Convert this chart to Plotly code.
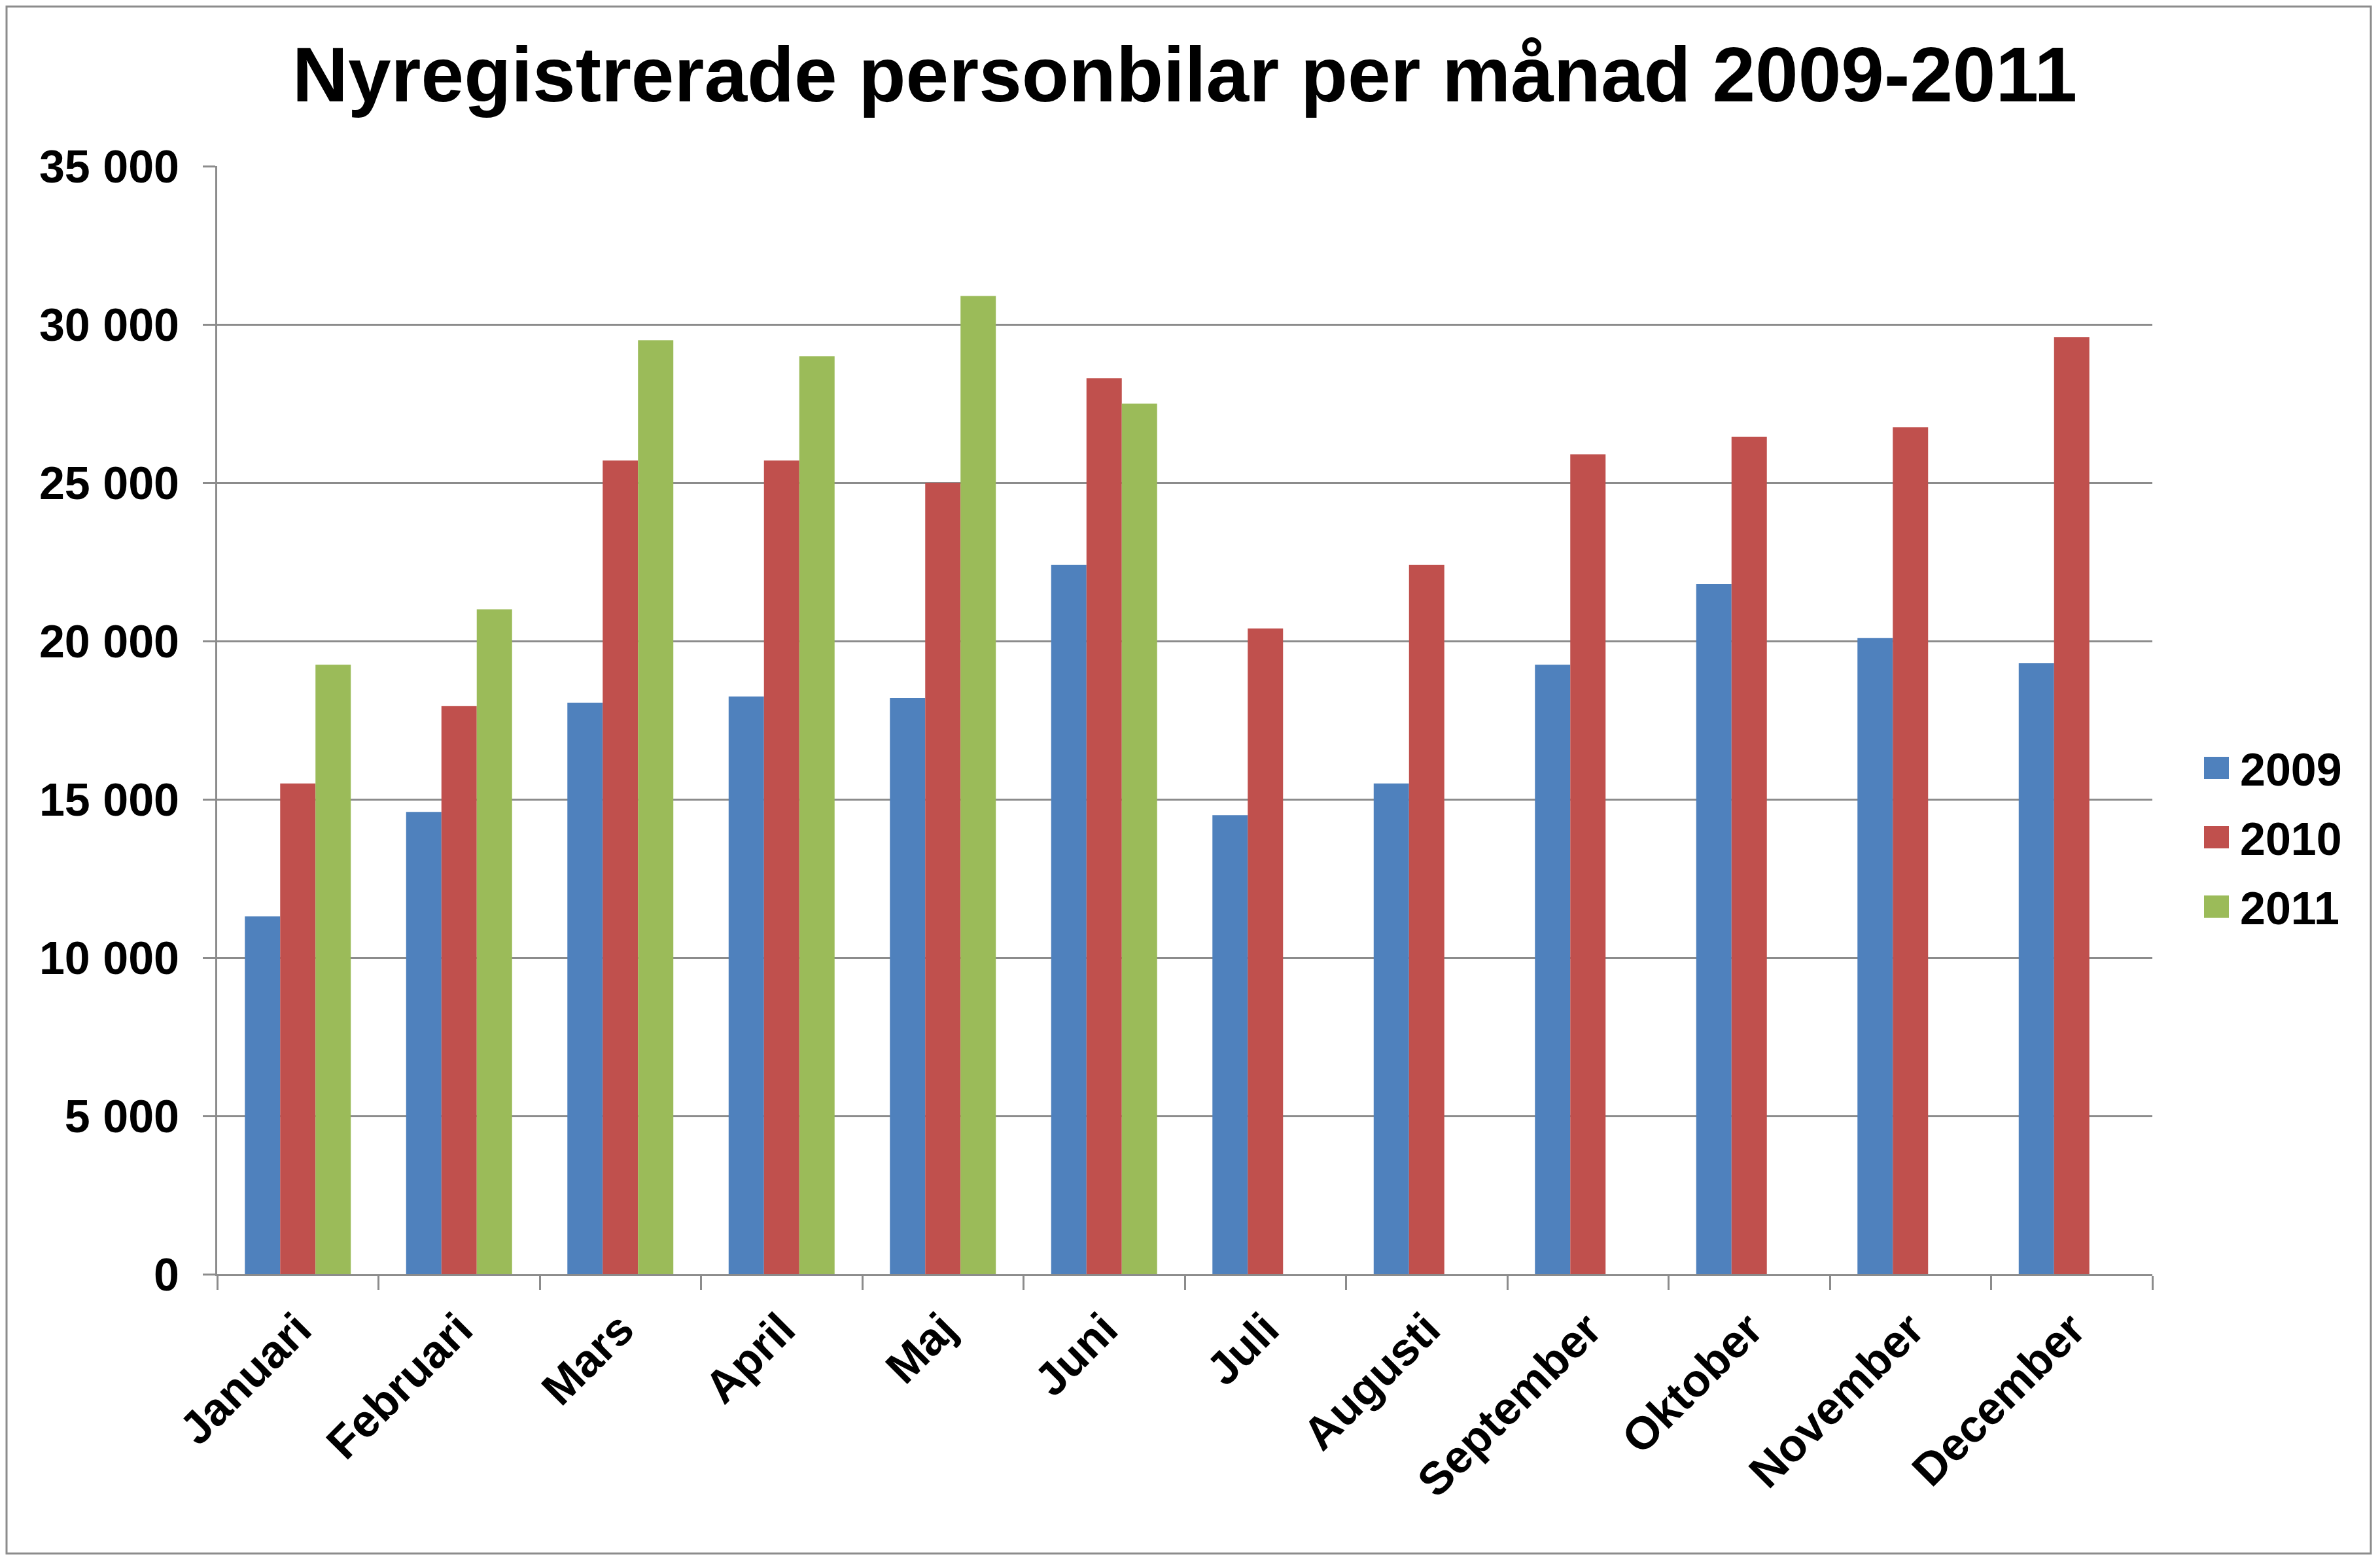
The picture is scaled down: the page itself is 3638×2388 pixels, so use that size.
import plotly.graph_objects as go

months = ["Januari", "Februari", "Mars", "April", "Maj", "Juni", "Juli",
          "Augusti", "September", "Oktober", "November", "December"]
y2009 = [11300, 14600, 18050, 18250, 18200, 22400, 14500, 15500, 19250, 21800, 20100, 19300]
y2010 = [15500, 17950, 25700, 25700, 25000, 28300, 20400, 22400, 25900, 26450, 26750, 29600]
y2011 = [19250, 21000, 29500, 29000, 30900, 27500, None, None, None, None, None, None]
series_names = ["2009", "2010", "2011"]
series_values = [y2009, y2010, y2011]
series_colors = ["#4F81BD", "#C0504D", "#9BBB59"]
ytick_vals = [0, 5000, 10000, 15000, 20000, 25000, 30000, 35000]
ytick_text = ["0", "5 000", "10 000", "15 000", "20 000", "25 000", "30 000", "35 000"]
title_text = "Nyregistrerade personbilar per månad 2009-2011"

W, H = 3638, 2388
ML, MR, MT, MB = 332, 348, 254, 440
PW = W - ML - MR
PH = H - MT - MB
FONT = "Liberation Sans, Arial, sans-serif"
GRID = "#8c8c8c"

fig = go.Figure()
for name, vals, col in zip(series_names, series_values, series_colors):
    fig.add_trace(go.Bar(x=months, y=vals, name=name, marker_color=col,
                         marker_line_width=0, showlegend=False))

def px_x(x):
    return (x - ML) / PW

def px_y(y):
    return (H - MB - y) / PH

shapes = [dict(type="rect", xref="paper", yref="paper",
               x0=px_x(10), x1=px_x(3624), y0=px_y(2375), y1=px_y(10),
               line=dict(color=GRID, width=3), fillcolor="rgba(0,0,0,0)", layer="below")]
annotations = []
for i, (name, col) in enumerate(zip(series_names, series_colors)):
    cy = 1174 + 106 * i
    shapes.append(dict(type="rect", xref="paper", yref="paper",
                       x0=px_x(3369), x1=px_x(3407), y0=px_y(cy + 17), y1=px_y(cy - 17),
                       line=dict(width=0), fillcolor=col))
    annotations.append(dict(xref="paper", yref="paper", x=px_x(3422), y=px_y(cy + 3),
                            xanchor="left", yanchor="middle", showarrow=False,
                            text=name, font=dict(family=FONT, size=70, color="black", weight=700)))

fig.update_layout(
    width=W, height=H,
    margin=dict(l=ML, r=MR, t=MT, b=MB, pad=0),
    paper_bgcolor="white", plot_bgcolor="white",
    barmode="group", bargap=0.343, bargroupgap=0,
    title=dict(text=title_text, x=0.5, xanchor="center", xref="paper",
               y=1 - 114 / H, yanchor="middle", yref="container",
               font=dict(family=FONT, size=118, color="black", weight=700)),
    shapes=shapes, annotations=annotations,
    showlegend=False,
)
fig.update_xaxes(
    type="category", showline=True, linecolor=GRID, linewidth=3,
    ticks="outside", tickson="boundaries", ticklen=21, tickwidth=3, tickcolor=GRID,
    tickangle=-45, showgrid=False, ticklabelstandoff=12,
    tickfont=dict(family=FONT, size=70, color="black", weight=700),
)
fig.update_yaxes(
    range=[0, 35000], tickvals=ytick_vals, ticktext=ytick_text,
    showline=True, linecolor=GRID, linewidth=3,
    ticks="outside", ticklen=19, tickwidth=3, tickcolor=GRID,
    showgrid=True, gridcolor=GRID, gridwidth=3, zeroline=False,
    ticklabelstandoff=22,
    tickfont=dict(family=FONT, size=70, color="black", weight=700),
)
fig.write_html("out.html", config={"displayModeBar": False},
               post_script="document.body.style.margin='0';")
